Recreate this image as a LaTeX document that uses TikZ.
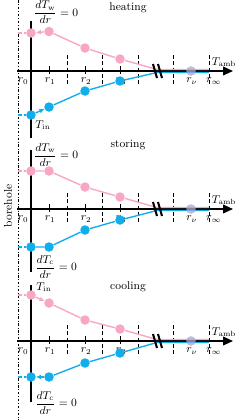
\documentclass[tikz,border=0pt]{standalone}
\usepackage{amsmath}
\usetikzlibrary{arrows.meta, positioning, calc}
\definecolor{warmline}{HTML}{F7A6C6}
\definecolor{coldline}{HTML}{12ADEB}

\begin{document}
\begin{tikzpicture}[x=0.8pt, y=-0.8pt,
    haxis/.style={-{Triangle[length=8pt, width=7pt]}, line width=1.2pt},
    vaxis/.style={line width=1.4pt},
    grid/.style={dashed, dash pattern=on 3pt off 2pt, line width=0.5pt},
    tick/.style={line width=0.8pt},
    dot/.style={circle, fill=#1, inner sep=0pt, minimum size=7.6pt},
    prof/.style={draw=#1, line width=1.1pt},
    lead/.style={draw=#1, line width=1.1pt, dashed, dash pattern=on 3pt off 2pt},
    push/.style={draw=#1, line width=1.1pt, -{Latex[length=4pt, width=4pt]}},
    brk/.style={line width=1.6pt},
    lbl/.style={inner sep=1pt, font=\small},
    title/.style={inner sep=1pt, font=\small}
]
\useasboundingbox (0,0) rectangle (240,420);

% Borehole wall
\draw[line width=0.5pt, dash pattern=on 2pt off 1.5pt on 0.5pt off 1.5pt] (18,0) -- (18,420);
\node[rotate=90, lbl] (bh) at (8,206) {borehole};

%%%%%%%%%%%%%%%%%%%% heating
\begin{scope}[shift={(0,71)}]
\node[title] (ht) at (128,-63) {heating};
\draw[grid] (67,-16) -- (67,14) (102,-16) -- (102,14) (138,-16) -- (138,14)
            (173,-16) -- (173,14) (209,-16) -- (209,14);
\draw[vaxis] (31,-50) -- (31,67);
\draw[haxis] (17,0) -- (233,0);
\draw[tick] (49,-5) -- (49,3) (85,-5) -- (85,3) (120,-5) -- (120,3);
\node[lbl] (hr0) at (23,10) {$r_0$};
\node[lbl] (hr1) at (50,10) {$r_1$};
\node[lbl] (hr2) at (86,10) {$r_2$};
\node[lbl] (hr3) at (121,10) {$r_3$};
\node[lbl] (hrv) at (192,10) {$r_\nu$};
\node[lbl] (hri) at (214,10) {$r_\infty$};
\node[lbl] (hta) at (224,-9) {$T_{\mathrm{amb}}$};
\node[lbl] (hdw) at (56,-58.5) {$\dfrac{dT_{\mathrm{w}}}{dr}=0$};
\node[lbl] (hin) at (43,54) {$T_{\mathrm{in}}$};
% warm side
\node[dot=warmline] (h0p) at (31,-38) {};
\node[dot=warmline] (h1p) at (49,-39.5) {};
\node[dot=warmline] (h2p) at (85,-23) {};
\node[dot=warmline] (h3p) at (120,-12) {};
\coordinate (hbp) at (18,-38);
\coordinate (hkp) at (157,-1.5);
\coordinate (hep) at (209,-1.5);
\draw[lead=warmline] (hbp) -- (h0p);
\draw[push=warmline] (h1p) -- (h0p);
\draw[prof=warmline] (h1p) -- (h2p) -- (h3p) -- (hkp) -- (hep);
% cold side
\node[dot=coldline] (h0c) at (31,44) {};
\node[dot=coldline] (h1c) at (49,36) {};
\node[dot=coldline] (h2c) at (85,20) {};
\node[dot=coldline] (h3c) at (120,10) {};
\coordinate (hbc) at (18,44);
\coordinate (hkc) at (157,1.5);
\coordinate (hec) at (209,1.5);
\draw[lead=coldline] (hbc) -- (h0c);
\draw[push=coldline] (h0c) -- (h1c);
\draw[prof=coldline] (h1c) -- (h2c) -- (h3c) -- (hkc) -- (hec);
\node[dot=coldline, opacity=0.5] (hvc) at (191,0) {};
\node[dot=warmline, opacity=0.5] (hvp) at (191,0) {};
\draw[brk] (153,-7) -- (157,7) (158,-7) -- (162,7);
\end{scope}

%%%%%%%%%%%%%%%%%%%% storing
\begin{scope}[shift={(0,209)}]
\node[title] (st) at (128,-64) {storing};
\draw[grid] (67,-16) -- (67,14) (102,-16) -- (102,14) (138,-16) -- (138,14)
            (173,-16) -- (173,14) (209,-16) -- (209,14);
\draw[vaxis] (31,-59) -- (31,63);
\draw[haxis] (17,0) -- (233,0);
\draw[tick] (49,-5) -- (49,3) (85,-5) -- (85,3) (120,-5) -- (120,3);
\node[lbl] (sr0) at (23,10) {$r_0$};
\node[lbl] (sr1) at (50,10) {$r_1$};
\node[lbl] (sr2) at (86,10) {$r_2$};
\node[lbl] (sr3) at (121,10) {$r_3$};
\node[lbl] (srv) at (192,10) {$r_\nu$};
\node[lbl] (sri) at (214,10) {$r_\infty$};
\node[lbl] (sta) at (224,-9) {$T_{\mathrm{amb}}$};
\node[lbl] (sdw) at (56,-54) {$\dfrac{dT_{\mathrm{w}}}{dr}=0$};
\node[lbl] (sdc) at (56,58) {$\dfrac{dT_{\mathrm{c}}}{dr}=0$};
% warm side
\node[dot=warmline] (s0p) at (31,-38) {};
\node[dot=warmline] (s1p) at (49,-38) {};
\node[dot=warmline] (s2p) at (85,-22) {};
\node[dot=warmline] (s3p) at (120,-12) {};
\coordinate (sbp) at (18,-38);
\coordinate (skp) at (157,-1.5);
\coordinate (sep) at (209,-1.5);
\draw[lead=warmline] (sbp) -- (s0p);
\draw[prof=warmline] (s0p) -- (s1p) -- (s2p) -- (s3p) -- (skp) -- (sep);
% cold side
\node[dot=coldline] (s0c) at (31,38) {};
\node[dot=coldline] (s1c) at (49,38) {};
\node[dot=coldline] (s2c) at (85,21) {};
\node[dot=coldline] (s3c) at (120,11) {};
\coordinate (sbc) at (18,38);
\coordinate (skc) at (157,1.5);
\coordinate (sec) at (209,1.5);
\draw[lead=coldline] (sbc) -- (s0c);
\draw[prof=coldline] (s0c) -- (s1c) -- (s2c) -- (s3c) -- (skc) -- (sec);
\node[dot=coldline, opacity=0.5] (svc) at (191,0) {};
\node[dot=warmline, opacity=0.5] (svp) at (191,0) {};
\draw[brk] (153,-7) -- (157,7) (158,-7) -- (162,7);
\end{scope}

%%%%%%%%%%%%%%%%%%%% cooling
\begin{scope}[shift={(0,341)}]
\node[title] (ct) at (128,-54) {cooling};
\draw[grid] (67,-16) -- (67,14) (102,-16) -- (102,14) (138,-16) -- (138,14)
            (173,-16) -- (173,14) (209,-16) -- (209,14);
\draw[vaxis] (31,-56) -- (31,61);
\draw[haxis] (17,0) -- (233,0);
\draw[tick] (49,-5) -- (49,3) (85,-5) -- (85,3) (120,-5) -- (120,3);
\node[lbl] (cr0) at (23,10) {$r_0$};
\node[lbl] (cr1) at (50,10) {$r_1$};
\node[lbl] (cr2) at (86,10) {$r_2$};
\node[lbl] (cr3) at (121,10) {$r_3$};
\node[lbl] (crv) at (192,10) {$r_\nu$};
\node[lbl] (cri) at (214,10) {$r_\infty$};
\node[lbl] (cta) at (224,-9) {$T_{\mathrm{amb}}$};
\node[lbl] (cin) at (44,-54) {$T_{\mathrm{in}}$};
\node[lbl] (cdc) at (56,62) {$\dfrac{dT_{\mathrm{c}}}{dr}=0$};
% warm side
\node[dot=warmline] (c0p) at (31,-46) {};
\node[dot=warmline] (c1p) at (49,-38) {};
\node[dot=warmline] (c2p) at (85,-21) {};
\node[dot=warmline] (c3p) at (120,-12) {};
\coordinate (cbp) at (18,-46);
\coordinate (ckp) at (157,-1.5);
\coordinate (cep) at (209,-1.5);
\draw[lead=warmline] (cbp) -- (c0p);
\draw[push=warmline] (c0p) -- (c1p);
\draw[prof=warmline] (c1p) -- (c2p) -- (c3p) -- (ckp) -- (cep);
% cold side
\node[dot=coldline] (c0c) at (31,36) {};
\node[dot=coldline] (c1c) at (49,36) {};
\node[dot=coldline] (c2c) at (85,22) {};
\node[dot=coldline] (c3c) at (120,12) {};
\coordinate (cbc) at (18,36);
\coordinate (ckc) at (157,1.5);
\coordinate (cec) at (209,1.5);
\draw[lead=coldline] (cbc) -- (c0c);
\draw[push=coldline] (c1c) -- (c0c);
\draw[prof=coldline] (c1c) -- (c2c) -- (c3c) -- (ckc) -- (cec);
\node[dot=coldline, opacity=0.5] (cvc) at (191,0) {};
\node[dot=warmline, opacity=0.5] (cvp) at (191,0) {};
\draw[brk] (153,-7) -- (157,7) (158,-7) -- (162,7);
\end{scope}
\end{tikzpicture}
\end{document}
